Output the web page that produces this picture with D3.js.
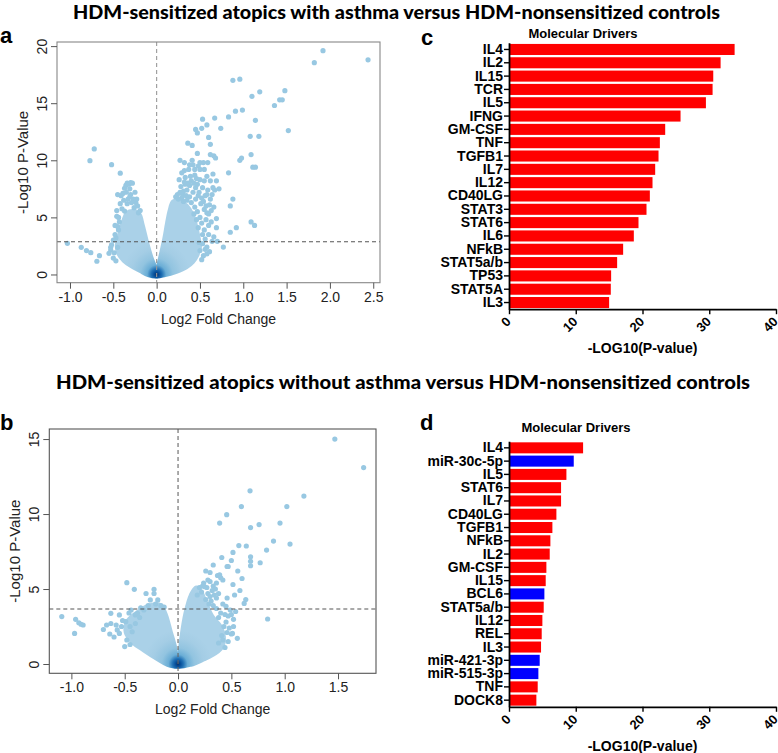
<!DOCTYPE html>
<html><head><meta charset="utf-8">
<script src="https://cdn.jsdelivr.net/npm/d3@7"></script>
<style>body{margin:0;background:#fff}svg{display:block}</style>
</head><body><svg id="fig" width="778" height="753"></svg>
<script>
// ---------------- DATA ----------------
const titleTop = "HDM-sensitized atopics with asthma versus HDM-nonsensitized controls";
const titleBottom = "HDM-sensitized atopics without asthma versus HDM-nonsensitized controls";
const barTitle = "Molecular Drivers";
const barAxisLabel = "-LOG10(P-value)";
const volcanoXLabel = "Log2 Fold Change";
const volcanoYLabel = "-Log10 P-Value";

const driversC = ["IL4","IL2","IL15","TCR","IL5","IFNG","GM-CSF","TNF","TGFB1","IL7","IL12","CD40LG","STAT3","STAT6","IL6","NFkB","STAT5a/b","TP53","STAT5A","IL3"];
const valuesC  = [33.8,31.7,30.6,30.5,29.5,25.7,23.4,22.6,22.4,21.9,21.5,21.1,20.6,19.4,18.7,17.1,16.2,15.3,15.25,15.0];
const typesC   = driversC.map(() => "gene");

const driversD = ["IL4","miR-30c-5p","IL5","STAT6","IL7","CD40LG","TGFB1","NFkB","IL2","GM-CSF","IL15","BCL6","STAT5a/b","IL12","REL","IL3","miR-421-3p","miR-515-3p","TNF","DOCK8"];
const valuesD  = [11.1,9.7,8.6,7.8,7.8,7.1,6.5,6.2,6.1,5.6,5.5,5.3,5.2,5.0,4.9,4.8,4.6,4.4,4.3,4.1];
const typesD   = ["gene","mirna","gene","gene","gene","gene","gene","gene","gene","gene","gene","mirna","gene","gene","gene","gene","mirna","mirna","gene","gene"];

const barTicks = [0,10,20,30,40];
const volcanoXTicksA = [-1.0,-0.5,0.0,0.5,1.0,1.5,2.0,2.5];
const volcanoYTicksA = [0,5,10,15,20];
const volcanoXTicksB = [-1.0,-0.5,0.0,0.5,1.0,1.5];
const volcanoYTicksB = [0,5,10,15];
const thresholdA = 2.87;
const thresholdB = 3.67;

// dense (smoothed) cloud outlines, [log2FC, -log10 p]
const cloudLeftA  = [[0.01,-0.15],[-0.1,-0.05],[-0.19,0.3],[-0.3,0.75],[-0.38,1.2],[-0.44,1.8],[-0.46,2.5],[-0.44,3.2],[-0.41,4.0],[-0.38,4.8],[-0.34,5.4],[-0.27,5.55],[-0.2,5.3],[-0.16,4.3],[-0.11,2.8],[-0.06,1.5],[-0.01,0.5]];
const cloudRightA = [[-0.01,-0.15],[0.1,-0.05],[0.22,0.2],[0.34,0.6],[0.42,1.1],[0.47,1.7],[0.5,2.4],[0.48,3.4],[0.45,4.4],[0.41,5.3],[0.35,6.0],[0.27,6.4],[0.19,6.4],[0.15,5.6],[0.12,4.5],[0.09,3.2],[0.05,1.8],[0.01,0.5]];
const cloudLeftB  = [[0.01,-0.15],[-0.1,-0.05],[-0.2,0.35],[-0.32,0.9],[-0.42,1.4],[-0.49,2.1],[-0.47,2.9],[-0.37,3.5],[-0.27,3.9],[-0.17,3.95],[-0.12,3.4],[-0.07,2.2],[-0.03,1.2],[-0.01,0.4]];
const cloudRightB = [[-0.01,-0.15],[0.12,-0.05],[0.24,0.3],[0.35,0.7],[0.42,1.2],[0.43,1.8],[0.4,2.5],[0.32,3.2],[0.26,4.1],[0.21,4.9],[0.17,5.1],[0.12,4.6],[0.07,3.4],[0.03,1.7],[0.01,0.4]];

// individual (sparse) genes
const pointsA = [
 [-1.03,2.73],[-0.87,2.38],[-0.81,2.09],[-0.76,1.91],[-0.66,1.65],[-0.69,1.16],
 [-0.53,2.38],[-0.53,2.14],[-0.55,1.85],[-0.50,1.44],[-0.49,1.9],[-0.45,2.38],[-0.47,1.2],
 [-0.72,11.0],[-0.77,9.97],[-0.52,9.62],[-0.42,8.87],
 [-0.45,7.0],[-0.37,7.55],[-0.355,7.8],[-0.34,8.0],[-0.32,7.9],[-0.3,8.05],[-0.28,8.0],[-0.31,7.5],[-0.35,7.2],[-0.3,7.0],[-0.27,6.6],
 [-0.38,6.5],[-0.34,6.2],[-0.24,6.3],[-0.22,6.0],[-0.26,5.85],[-0.4,5.75],[-0.37,5.55],[-0.46,5.1],[-0.21,5.4],[-0.19,5.6],[-0.43,4.6],[-0.44,3.9],[-0.47,3.2],[-0.48,3.5],[-0.44,5.0],[-0.31,6.8],
 [-0.42,6.2],[-0.39,7.1],[-0.41,6.9],[-0.33,6.6],[-0.29,6.3],[-0.25,7.2],[-0.23,6.6],[-0.45,4.2],[-0.5,3.0],[-0.52,2.6],[-0.48,4.3],[-0.46,5.6],
 [0.58,1.8],[0.54,1.65],[0.77,2.4],[0.61,2.0],[0.52,1.3],[0.5,2.1],[0.53,2.7],[0.56,3.1],[0.6,3.5],[0.55,3.9],[0.6,4.3],[0.63,4.6],[0.57,4.8],[0.52,4.5],[0.5,5.0],[0.6,5.3],[0.47,5.5],[0.44,5.9],[0.4,6.3],[0.55,5.7],
 [0.66,5.9],[0.69,4.9],[0.69,4.1],[0.54,6.4],[0.52,6.7],[0.62,6.6],[0.58,7.0],[0.48,6.9],[0.45,6.6],[0.42,7.2],[0.38,6.8],[0.35,7.4],[0.3,7.0],[0.28,7.7],[0.38,7.8],[0.45,7.6],[0.5,8.3],[0.4,8.2],[0.33,8.5],[0.32,8.1],[0.32,9.1],[0.44,8.7],[0.46,8.4],[0.44,9.2],
 [0.26,8.3],[0.29,8.9],[0.31,7.3],[0.34,6.9],[0.36,8.0],[0.37,9.2],[0.39,8.6],[0.42,9.6],[0.43,8.0],[0.47,7.9],[0.48,9.5],[0.49,7.2],[0.51,6.2],[0.53,7.6],[0.55,8.2],[0.56,6.9],[0.57,6.0],[0.58,5.4],[0.59,7.4],[0.61,6.1],[0.63,5.6],[0.64,7.0],[0.35,6.5],[0.33,7.9],[0.29,6.7],[0.27,7.2],[0.24,7.0],[0.22,6.8],[0.25,6.6],[0.31,6.4],[0.46,4.8],[0.43,5.3],[0.48,4.1],[0.53,3.5],[0.58,2.4],[0.64,2.9],[0.66,3.3],[0.7,2.9],[0.56,2.2],[0.49,2.8],
 [0.65,7.6],[0.67,7.4],[0.72,7.5],[0.62,8.2],[0.69,8.2],[0.58,8.6],[0.65,8.8],[0.5,9.2],[0.55,9.2],
 [0.27,10.0],[0.32,9.8],[0.38,9.6],[0.41,10.0],[0.36,11.5],[0.41,11.3],[0.47,10.6],[0.5,9.8],[0.54,9.8],[0.59,9.8],[0.62,10.5],[0.66,10.4],[0.68,10.2],
 [0.47,12.4],[0.45,12.7],[0.52,12.8],[0.53,13.6],[0.58,13.1],[0.60,12.0],[0.62,11.4],[0.67,13.7],[0.74,12.8],
 [0.83,8.9],[0.85,6.0],[0.88,6.6],[0.85,3.7],[0.92,4.1],[1.09,4.6],[1.13,4.3],
 [0.96,10.0],[0.98,10.2],[1.09,10.5],[1.11,9.4],[1.14,9.4],[1.08,12.1],[1.18,12.1],
 [0.83,13.8],[0.91,14.3],[0.99,14.4],[1.14,13.5],[1.10,15.6],[1.19,16.0],[1.36,14.8],[1.42,15.3],[1.45,15.3],[1.48,16.1],[1.52,12.6],
 [0.88,17.0],[0.96,17.1],[1.82,18.55],[1.92,19.6],[2.44,18.8]
];
const pointsB = [
 [1.47,15.0],[1.74,13.1],[0.675,11.55],[1.18,11.2],[0.594,10.5],[1.02,10.5],[0.456,9.96],[0.39,9.4],[0.68,9.1],[0.76,9.3],[0.956,9.4],
 [0.57,7.9],[0.64,7.87],[0.515,7.44],[0.83,7.6],[0.895,8.2],[1.05,8.0],[0.68,7.15],[0.68,6.85],[0.68,6.55],[0.77,6.75],[0.41,7.1],[0.47,6.5],
 [0.26,6.2],[0.30,6.1],[0.33,6.6],[0.46,6.5],[0.37,5.9],[0.39,5.95],[0.42,5.6],[0.40,5.75],[0.36,5.4],[0.3,5.5],[0.33,5.2],
 [0.2,5.1],[0.23,5.2],[0.25,5.15],[0.27,5.1],[0.22,4.8],[0.18,4.6],[0.28,4.7],[0.3,4.5],[0.35,5.0],[0.26,4.3],[0.31,4.2],[0.36,4.4],[0.38,4.7],
 [0.28,5.6],[0.24,5.4],[0.32,4.9],[0.34,4.6],[0.29,4.0],[0.33,3.9],[0.38,3.1],[0.44,3.3],[0.5,3.3],[0.43,2.5],[0.52,2.5],[0.47,1.5],[0.41,1.9],[0.54,3.5],[0.58,4.9],[0.6,5.7],[0.56,6.2],[0.5,6.9],
 [0.515,5.3],[0.53,4.6],[0.46,4.4],[0.635,4.3],[0.62,4.04],[0.45,3.85],[0.84,3.0],[0.52,2.98],[0.51,2.04],[0.556,1.71],[0.5,2.0],[0.38,1.4],[0.42,1.6],[0.48,2.4],[0.45,2.8],[0.4,3.4],[0.47,3.2],[0.36,3.7],[0.42,4.0],[0.49,3.6],[0.44,1.1],[0.46,2.1],
 [-1.09,3.16],[-0.96,2.98],[-0.97,2.04],[-0.93,2.75],[-0.91,2.65],[-0.89,2.6],
 [-0.48,5.42],[-0.41,4.98],[-0.225,4.98],[-0.225,4.7],[-0.30,4.7],[-0.26,4.27],[-0.19,4.27],[-0.16,3.9],[-0.13,3.8],[-0.21,4.0],
 [-0.63,3.38],[-0.63,2.7],[-0.55,3.27],[-0.49,2.82],[-0.57,2.27],[-0.53,2.5],[-0.67,2.6],[-0.64,2.0],[-0.5,1.16],[-0.48,1.6],[-0.43,2.15],[-0.4,3.27],[-0.38,3.38],[-0.32,3.6],[-0.55,2.04],[-0.6,1.8],[-0.45,1.3],[-0.35,3.75],[-0.28,3.9],
 [-0.45,2.5],[-0.4,2.7],[-0.36,3.1],[-0.52,2.9],[-0.46,3.4],[-0.44,3.6],[-0.58,2.6],[-0.7,2.3]
];

// ---------------- DRAWING ----------------
const svg = d3.select("#fig");
const defs = svg.append("defs");
const SANS = "'Liberation Sans', Arial, sans-serif";
const TITLEFONT = "Lato, 'Open Sans', sans-serif";
const ptColor = "#98c8e2";

function volcano(cfg) {
  const x = d3.scaleLinear().domain(cfg.xDomain).range([cfg.left, cfg.right]);
  const y = d3.scaleLinear().domain(cfg.yDomain).range([cfg.bottom, cfg.top]);
  const g = svg.append("g");
  const grad = defs.append("radialGradient").attr("id", cfg.id)
    .attr("gradientUnits", "userSpaceOnUse")
    .attr("cx", x(0)).attr("cy", y(0)).attr("r", 34);
  [[0,"#08306b"],[0.08,"#08519c"],[0.16,"#2171b5"],[0.28,"#6baed6"],[0.48,"#92c4e0"],[0.75,"#a4cde5"],[1,"#aad1e8"]]
    .forEach(s => grad.append("stop").attr("offset", s[0]).attr("stop-color", s[1]));
  const line = d3.line().x(d => x(d[0])).y(d => y(d[1])).curve(d3.curveCatmullRomClosed.alpha(0.5));
  cfg.clouds.forEach(c => g.append("path").attr("d", line(c))
     .attr("fill", `url(#${cfg.id})`).attr("stroke", `url(#${cfg.id})`)
     .attr("stroke-width", 4).attr("stroke-linejoin", "round"));
  g.append("g").selectAll("circle").data(cfg.points).join("circle")
    .attr("cx", d => x(d[0])).attr("cy", d => y(d[1])).attr("r", 2.6).attr("fill", ptColor);
  g.append("line").attr("x1", x(0)).attr("x2", x(0)).attr("y1", cfg.top).attr("y2", cfg.bottom)
    .attr("stroke", cfg.vColor).attr("stroke-width", 1.1).attr("stroke-dasharray", "4,3");
  g.append("line").attr("x1", cfg.left).attr("x2", cfg.right).attr("y1", y(cfg.thr)).attr("y2", y(cfg.thr))
    .attr("stroke", "#555").attr("stroke-width", 1.1).attr("stroke-dasharray", "4,3");
  g.append("rect").attr("x", cfg.left).attr("y", cfg.top).attr("width", cfg.right - cfg.left)
    .attr("height", cfg.bottom - cfg.top).attr("fill", "none").attr("stroke", cfg.boxColor).attr("stroke-width", 1.1);

  const xa = g.append("g").attr("transform", `translate(0,${cfg.bottom})`)
    .call(d3.axisBottom(x).tickValues(cfg.xTicks).tickSize(6).tickPadding(3).tickFormat(d => d.toFixed(1)));
  xa.select(".domain").remove();
  xa.attr("font-size", 14).attr("font-family", SANS);
  xa.selectAll("line").attr("stroke", "#555");
  xa.selectAll("text").attr("fill", "#222");

  const ya = g.append("g").attr("transform", `translate(${cfg.left},0)`)
    .call(d3.axisLeft(y).tickValues(cfg.yTicks).tickSize(6).tickFormat(d3.format("d")));
  ya.select(".domain").remove();
  ya.attr("font-size", 14).attr("font-family", SANS);
  ya.selectAll("line").attr("stroke", "#555");
  ya.selectAll("text").attr("fill", "#222").attr("x", 0).attr("y", -10.5).attr("dy", null)
    .attr("text-anchor", "middle").attr("transform", "rotate(-90)");

  g.append("text").attr("x", (cfg.left + cfg.right) / 2).attr("y", cfg.bottom + 41)
    .attr("text-anchor", "middle").attr("font-family", SANS).attr("font-size", 14).attr("fill", "#222")
    .text(volcanoXLabel);
  g.append("text").attr("transform", `translate(${cfg.left - 29},${(cfg.top + cfg.bottom) / 2}) rotate(-90)`)
    .attr("text-anchor", "middle").attr("font-family", SANS).attr("font-size", 15).attr("fill", "#222")
    .text(volcanoYLabel);
  g.append("text").attr("x", cfg.letterX).attr("y", cfg.letterY).attr("font-family", SANS)
    .attr("font-weight", "bold").attr("font-size", 22).text(cfg.letter);
}

function bars(cfg) {
  const x = d3.scaleLinear().domain([0, 40]).range([509, 776]);
  const y = d3.scaleBand().domain(cfg.names).range([cfg.top, cfg.bottom]).paddingInner(0.17).paddingOuter(0.085);
  const g = svg.append("g");
  const data = cfg.names.map((n, i) => ({name: n, value: cfg.values[i], type: cfg.types[i]}));
  g.append("g").selectAll("rect").data(data).join("rect")
    .attr("x", x(0)).attr("y", d => y(d.name)).attr("width", d => x(d.value) - x(0))
    .attr("height", y.bandwidth()).attr("fill", d => d.type === "mirna" ? "#0000ff" : "#ff0000");

  const ya = g.append("g").attr("transform", `translate(${x(0)},0)`)
    .call(d3.axisLeft(y).tickSize(5).tickSizeOuter(0).tickPadding(1));
  ya.attr("font-size", 14).attr("font-family", SANS).attr("font-weight", "bold");
  ya.select(".domain").attr("stroke", "#000").attr("stroke-width", 1.8);
  ya.selectAll(".tick line").attr("stroke", "#000").attr("stroke-width", 1.4);
  ya.selectAll("text").attr("fill", "#000");

  const xa = g.append("g").attr("transform", `translate(0,${cfg.bottom})`)
    .call(d3.axisBottom(x).tickValues(barTicks).tickSize(5).tickSizeOuter(0));
  xa.attr("font-size", 13).attr("font-family", SANS).attr("font-weight", "bold");
  xa.select(".domain").attr("stroke", "#000").attr("stroke-width", 1.8);
  xa.selectAll(".tick line").attr("stroke", "#000").attr("stroke-width", 1.4);
  xa.selectAll("text").attr("fill", "#000").attr("x", 0).attr("y", 0).attr("dy", ".35em")
    .attr("text-anchor", "end").attr("transform", "translate(-1,10) rotate(-45)");

  g.append("text").attr("x", (x(0) + x(40)) / 2).attr("y", cfg.bottom + 44)
    .attr("text-anchor", "middle").attr("font-family", SANS).attr("font-weight", "bold")
    .attr("font-size", 14).text(barAxisLabel);
  g.append("text").attr("x", cfg.titleX).attr("y", cfg.titleY)
    .attr("text-anchor", "middle").attr("font-family", SANS).attr("font-weight", "bold")
    .attr("font-size", 13).text(barTitle);
  g.append("text").attr("x", cfg.letterX).attr("y", cfg.letterY).attr("font-family", SANS)
    .attr("font-weight", "bold").attr("font-size", 22).text(cfg.letter);
}

// section titles
svg.append("text").attr("x", 73).attr("y", 19).attr("font-family", TITLEFONT).attr("font-weight", "900")
  .attr("font-size", 19).attr("textLength", 647).attr("lengthAdjust", "spacingAndGlyphs").text(titleTop);
svg.append("text").attr("x", 56).attr("y", 389).attr("font-family", TITLEFONT).attr("font-weight", "900")
  .attr("font-size", 19).attr("textLength", 694).attr("lengthAdjust", "spacingAndGlyphs").text(titleBottom);

volcano({id: "gA", letter: "a", letterX: 0, letterY: 43,
  left: 57, right: 380, top: 42, bottom: 282.7,
  xDomain: [-1.15, 2.578], yDomain: [-0.72, 20.36],
  xTicks: volcanoXTicksA, yTicks: volcanoYTicksA, thr: thresholdA,
  clouds: [cloudLeftA, cloudRightA], points: pointsA, vColor: "#999", boxColor: "#888"});
volcano({id: "gB", letter: "b", letterX: 0, letterY: 430,
  left: 49.3, right: 376, top: 429, bottom: 673.3,
  xDomain: [-1.207, 1.856], yDomain: [-0.62, 15.67],
  xTicks: volcanoXTicksB, yTicks: volcanoYTicksB, thr: thresholdB,
  clouds: [cloudLeftB, cloudRightB], points: pointsB, vColor: "#666", boxColor: "#555"});

bars({names: driversC, values: valuesC, types: typesC, top: 42.8, bottom: 309.2,
  titleX: 583, titleY: 37.5, letter: "c", letterX: 421, letterY: 45});
bars({names: driversD, values: valuesD, types: typesD, top: 441.2, bottom: 706.8,
  titleX: 576, titleY: 431.5, letter: "d", letterX: 420, letterY: 430});
</script></body></html>
